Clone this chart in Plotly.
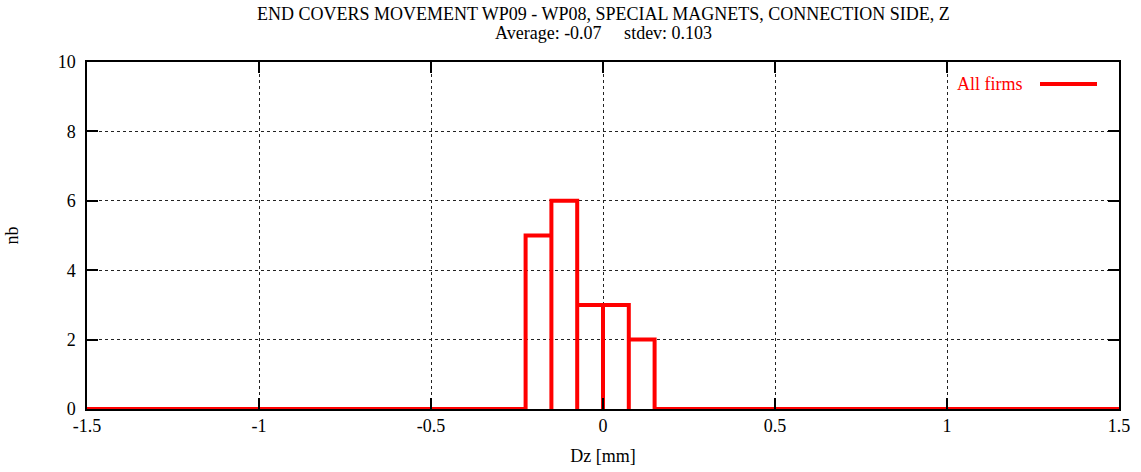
import plotly.graph_objects as go

# Histogram of Dz: 40 bins of width 0.075 from -1.5 to 1.5
bin_start = -1.5
bin_width = 0.075
counts = [0] * 17 + [5, 6, 3, 3, 2] + [0] * 18

title_line1 = "END COVERS MOVEMENT WP09 - WP08, SPECIAL MAGNETS, CONNECTION SIDE, Z"
title_line2 = "Average: -0.07     stdev: 0.103"
x_ticks = [-1.5, -1, -0.5, 0, 0.5, 1, 1.5]
x_tick_text = ["-1.5", "-1", "-0.5", "0", "0.5", "1", "1.5"]
y_ticks = [0, 2, 4, 6, 8, 10]

RED = "#ff0000"
FONT = "Liberation Serif"
FS = 18

# outline of every bin box (left edge, top, right edge, back to zero)
xs, ys = [], []
for i, c in enumerate(counts):
    left = bin_start + i * bin_width
    right = left + bin_width
    xs += [left, left, right, right]
    ys += [0, c, c, 0]

fig = go.Figure()
fig.add_trace(go.Scatter(
    x=xs, y=ys, mode="lines",
    line=dict(color=RED, width=4),
    name="All firms", showlegend=False, cliponaxis=False,
))

axis_common = dict(
    showline=True, linecolor="black", linewidth=1.5, mirror="ticks",
    ticks="inside", ticklen=11, tickwidth=1.5, tickcolor="black",
    showgrid=True, gridcolor="#222222", griddash="dot", gridwidth=1,
    zeroline=False, automargin=False,
    tickfont=dict(family=FONT, size=FS, color="black"),
)

fig.update_layout(
    width=1141, height=472,
    margin=dict(l=87, r=22, t=62, b=63),
    paper_bgcolor="white", plot_bgcolor="white",
    font=dict(family=FONT, size=FS, color="black"),
    xaxis=dict(range=[-1.5, 1.5], tickvals=x_ticks, ticktext=x_tick_text,
               ticklabelstandoff=0,
               title=dict(text="Dz [mm]", standoff=14,
                          font=dict(family=FONT, size=FS)),
               **axis_common),
    yaxis=dict(range=[0, 10], tickvals=y_ticks, ticklabelstandoff=6,
               title=dict(text="nb", standoff=34,
                          font=dict(family=FONT, size=FS)),
               **axis_common),
    showlegend=False,
)

# two-line title
fig.add_annotation(text=title_line1, xref="paper", yref="paper",
                   x=0.5, y=1, yshift=48, showarrow=False,
                   xanchor="center", yanchor="middle",
                   font=dict(family=FONT, size=FS, color="black"))
fig.add_annotation(text=title_line2.replace(" ", "&nbsp;"), xref="paper", yref="paper",
                   x=0.5, y=1, yshift=29, showarrow=False,
                   xanchor="center", yanchor="middle",
                   font=dict(family=FONT, size=FS, color="black"))

# key: label on the left, line sample on the right
fig.add_annotation(text="All firms", xref="paper", yref="paper",
                   x=(1025 - 87) / 1032, y=1 - (84 - 62) / 347,
                   xanchor="right", yanchor="middle", showarrow=False,
                   font=dict(family=FONT, size=FS, color=RED))
fig.add_shape(type="line", xref="paper", yref="paper",
              x0=(1040 - 87) / 1032, x1=(1097 - 87) / 1032,
              y0=1 - (84 - 62) / 347, y1=1 - (84 - 62) / 347,
              line=dict(color=RED, width=4))

fig.write_html("out.html")
